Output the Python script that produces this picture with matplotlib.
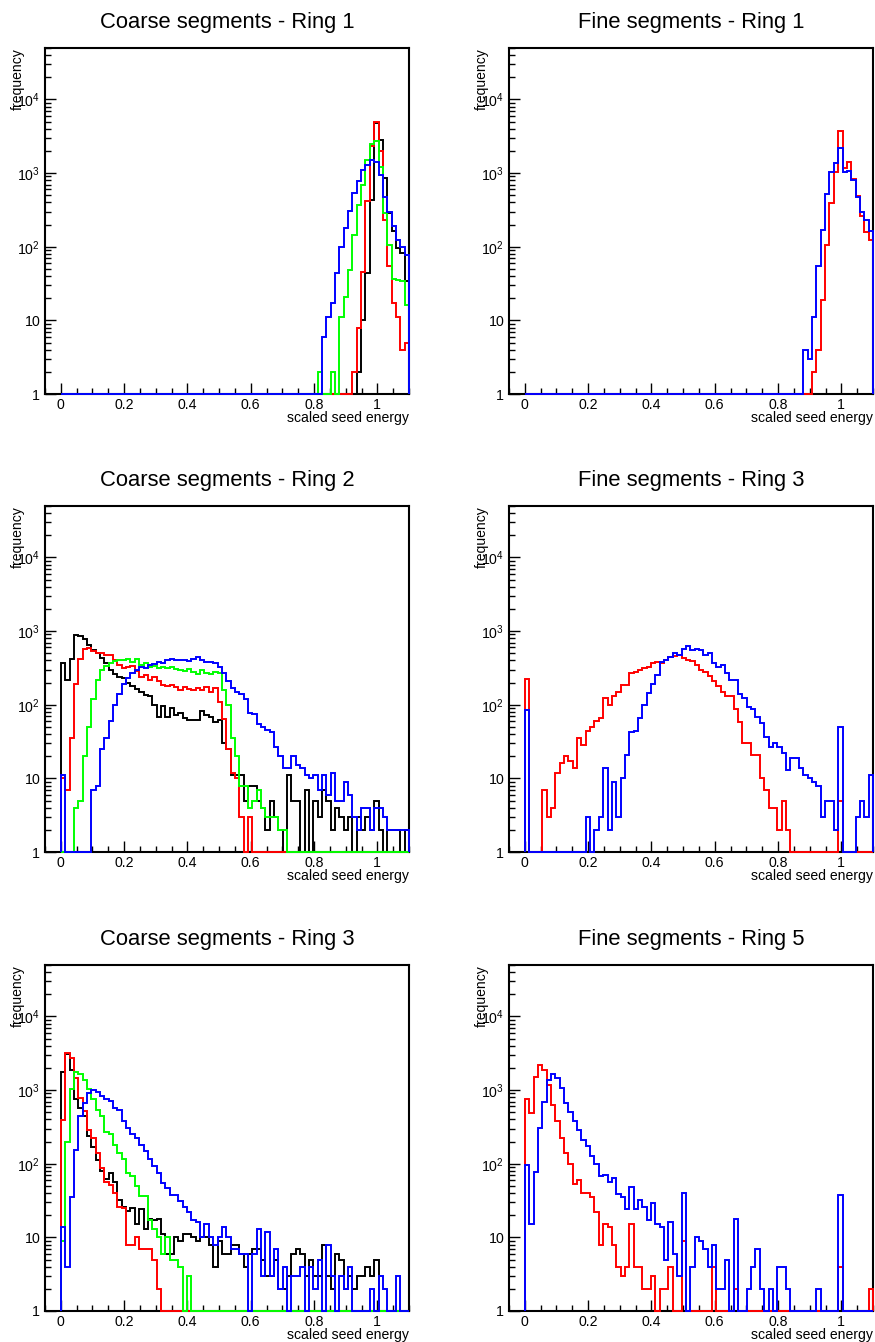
import numpy as np
import matplotlib
matplotlib.use("Agg")
import matplotlib.pyplot as plt
from matplotlib.ticker import FixedLocator, LogLocator, MultipleLocator, NullFormatter

plt.rcParams["font.family"] = ["Liberation Sans", "DejaVu Sans"]
plt.rcParams["mathtext.fontset"] = "custom"
plt.rcParams["mathtext.rm"] = "Liberation Sans"

# 80 bins of scaled seed energy between 0 and 1.1
bin_edges = np.linspace(0.0, 1.1, 81)

# ---- Coarse segments - Ring 1 ----
coarse1_black = [
    0, 0, 0, 0, 0, 0, 0, 0, 0, 0,
    0, 0, 0, 0, 0, 0, 0, 0, 0, 0,
    0, 0, 0, 0, 0, 0, 0, 0, 0, 0,
    0, 0, 0, 0, 0, 0, 0, 0, 0, 0,
    0, 0, 0, 0, 0, 0, 0, 0, 0, 0,
    0, 0, 0, 0, 0, 0, 0, 0, 0, 0,
    0, 0, 0, 0, 0, 0, 0, 0, 2, 10,
    44, 435, 4800, 2800, 860, 285, 162, 96, 82, 34,
]
coarse1_red = [
    0, 0, 0, 0, 0, 0, 0, 0, 0, 0,
    0, 0, 0, 0, 0, 0, 0, 0, 0, 0,
    0, 0, 0, 0, 0, 0, 0, 0, 0, 0,
    0, 0, 0, 0, 0, 0, 0, 0, 0, 0,
    0, 0, 0, 0, 0, 0, 0, 0, 0, 0,
    0, 0, 0, 0, 0, 0, 0, 0, 0, 0,
    0, 0, 0, 0, 0, 0, 0, 2, 8, 46,
    415, 2300, 5000, 2000, 230, 54, 17, 11, 4, 5,
]
coarse1_green = [
    0, 0, 0, 0, 0, 0, 0, 0, 0, 0,
    0, 0, 0, 0, 0, 0, 0, 0, 0, 0,
    0, 0, 0, 0, 0, 0, 0, 0, 0, 0,
    0, 0, 0, 0, 0, 0, 0, 0, 0, 0,
    0, 0, 0, 0, 0, 0, 0, 0, 0, 0,
    0, 0, 0, 0, 0, 0, 0, 0, 0, 2,
    0, 0, 2, 0, 11, 21, 49, 145, 372, 700,
    1500, 2500, 2700, 1200, 290, 107, 37, 35, 34, 16,
]
coarse1_blue = [
    0, 0, 0, 0, 0, 0, 0, 0, 0, 0,
    0, 0, 0, 0, 0, 0, 0, 0, 0, 0,
    0, 0, 0, 0, 0, 0, 0, 0, 0, 0,
    0, 0, 0, 0, 0, 0, 0, 0, 0, 0,
    0, 0, 0, 0, 0, 0, 0, 0, 0, 0,
    0, 0, 0, 0, 0, 0, 0, 0, 0, 0,
    6, 11, 17, 44, 100, 180, 310, 535, 780, 1090,
    1280, 1500, 1400, 935, 480, 295, 194, 122, 100, 78,
]

# ---- Fine segments - Ring 1 ----
fine1_red = [
    0, 0, 0, 0, 0, 0, 0, 0, 0, 0,
    0, 0, 0, 0, 0, 0, 0, 0, 0, 0,
    0, 0, 0, 0, 0, 0, 0, 0, 0, 0,
    0, 0, 0, 0, 0, 0, 0, 0, 0, 0,
    0, 0, 0, 0, 0, 0, 0, 0, 0, 0,
    0, 0, 0, 0, 0, 0, 0, 0, 0, 0,
    0, 0, 0, 0, 0, 0, 2, 4, 19, 104,
    390, 1030, 3700, 1170, 1400, 830, 490, 260, 157, 122,
]
fine1_blue = [
    0, 0, 0, 0, 0, 0, 0, 0, 0, 0,
    0, 0, 0, 0, 0, 0, 0, 0, 0, 0,
    0, 0, 0, 0, 0, 0, 0, 0, 0, 0,
    0, 0, 0, 0, 0, 0, 0, 0, 0, 0,
    0, 0, 0, 0, 0, 0, 0, 0, 0, 0,
    0, 0, 0, 0, 0, 0, 0, 0, 0, 0,
    0, 0, 0, 0, 4, 3, 11, 54, 170, 520,
    1030, 1370, 2200, 1050, 1080, 815, 480, 300, 228, 162,
]

# ---- Coarse segments - Ring 2 ----
coarse2_black = [
    370, 220, 420, 880, 870, 780, 640, 560, 500, 430,
    370, 300, 265, 240, 230, 195, 180, 165, 150, 135,
    130, 100, 69, 95, 69, 90, 73, 77, 66, 62,
    62, 62, 83, 73, 69, 59, 62, 30, 25, 11,
    11, 11, 5, 8, 8, 5, 4, 2, 5, 3,
    2, 0, 11, 5, 5, 0, 7, 0, 5, 3,
    7, 5, 2, 4, 3, 2, 3, 0, 3, 2,
    3, 2, 5, 2, 0, 2, 2, 2, 0, 2,
]
coarse2_red = [
    10, 7, 35, 190, 420, 570, 590, 530, 510, 500,
    480, 470, 400, 350, 320, 330, 340, 290, 240, 250,
    220, 240, 210, 185, 180, 185, 175, 160, 175, 165,
    160, 170, 160, 175, 150, 170, 110, 65, 25, 12,
    10, 3, 0, 3, 0, 0, 0, 0, 0, 0,
    0, 0, 0, 0, 0, 0, 0, 0, 0, 0,
    0, 0, 0, 0, 0, 0, 0, 0, 0, 0,
    0, 0, 0, 0, 0, 0, 0, 0, 0, 0,
]
coarse2_green = [
    0, 0, 0, 4, 5, 20, 50, 120, 220, 300,
    340, 370, 390, 410, 400, 420, 380, 420, 350, 370,
    330, 340, 320, 330, 320, 330, 310, 300, 290, 310,
    280, 260, 300, 270, 260, 280, 270, 160, 100, 35,
    20, 8, 8, 4, 5, 7, 4, 3, 3, 3,
    2, 2, 0, 0, 0, 0, 0, 0, 0, 0,
    0, 0, 0, 0, 0, 0, 0, 0, 0, 0,
    0, 0, 0, 0, 0, 0, 0, 0, 0, 0,
]
coarse2_blue = [
    11, 0, 0, 0, 0, 0, 0, 7, 8, 25,
    35, 60, 100, 140, 190, 230, 270, 300, 330, 320,
    350, 360, 380, 370, 410, 420, 410, 400, 410, 390,
    420, 440, 400, 380, 380, 370, 330, 270, 210, 170,
    150, 140, 120, 77, 75, 55, 50, 45, 42, 27,
    20, 14, 14, 20, 15, 14, 11, 10, 11, 7,
    11, 6, 12, 5, 5, 9, 6, 3, 2, 4,
    4, 2, 4, 4, 3, 2, 2, 2, 2, 2,
]

# ---- Fine segments - Ring 3 ----
fine3_red = [
    225, 0, 0, 0, 7, 3, 4, 12, 16, 20,
    17, 14, 35, 28, 44, 50, 60, 66, 123, 98,
    130, 150, 187, 187, 270, 275, 300, 320, 330, 370,
    380, 370, 410, 445, 455, 480, 430, 410, 390, 350,
    300, 280, 245, 210, 178, 150, 132, 130, 88, 59,
    30, 30, 21, 21, 10, 7, 4, 4, 2, 5,
    2, 0, 0, 0, 0, 0, 0, 0, 0, 0,
    0, 0, 5, 0, 0, 0, 0, 0, 0, 0,
]
fine3_blue = [
    84, 0, 0, 0, 0, 0, 0, 0, 0, 0,
    0, 0, 0, 0, 3, 0, 2, 3, 14, 2,
    9, 3, 10, 21, 42, 44, 66, 100, 145, 190,
    255, 380, 400, 440, 510, 480, 580, 620, 560, 580,
    560, 480, 510, 370, 330, 350, 270, 220, 220, 140,
    125, 93, 88, 69, 56, 37, 27, 30, 27, 22,
    13, 19, 19, 14, 11, 10, 9, 8, 3, 5,
    5, 2, 50, 0, 0, 0, 3, 5, 3, 11,
]

# ---- Coarse segments - Ring 3 ----
coarse3_black = [
    1780, 3070, 1900, 750, 575, 440, 235, 170, 113, 80,
    63, 74, 57, 32, 26, 23, 25, 15, 24, 13,
    18, 17, 18, 11, 6, 6, 10, 9, 11, 11,
    10, 9, 10, 10, 8, 4, 9, 6, 6, 8,
    8, 6, 4, 6, 7, 7, 5, 3, 3, 5,
    2, 2, 3, 6, 7, 6, 3, 5, 3, 3,
    8, 3, 2, 6, 5, 2, 3, 2, 3, 3,
    4, 3, 5, 0, 0, 0, 0, 0, 0, 0,
]
coarse3_red = [
    390, 3150, 2750, 1470, 790, 520, 290, 225, 140, 87,
    57, 52, 40, 26, 25, 8, 8, 10, 7, 7,
    7, 5, 2, 0, 0, 0, 0, 0, 0, 0,
    0, 0, 0, 0, 0, 0, 0, 0, 0, 0,
    0, 0, 0, 0, 0, 0, 0, 0, 0, 0,
    0, 0, 0, 0, 0, 0, 0, 0, 0, 0,
    0, 0, 0, 0, 0, 0, 0, 0, 0, 0,
    0, 0, 0, 0, 0, 0, 0, 0, 0, 0,
]
coarse3_green = [
    9, 195, 1020, 1780, 1630, 1390, 1050, 750, 540, 440,
    270, 250, 180, 142, 116, 74, 68, 50, 36, 36,
    17, 13, 10, 6, 10, 5, 5, 4, 0, 3,
    0, 0, 0, 0, 0, 0, 0, 0, 0, 0,
    0, 0, 0, 0, 0, 0, 0, 0, 0, 0,
    0, 0, 0, 0, 0, 0, 0, 0, 0, 0,
    0, 0, 0, 0, 0, 0, 0, 0, 0, 0,
    0, 0, 0, 0, 0, 0, 0, 0, 0, 0,
]
coarse3_blue = [
    14, 4, 35, 155, 440, 670, 920, 1000, 940, 830,
    760, 710, 575, 530, 385, 305, 255, 225, 180, 150,
    116, 93, 74, 55, 47, 38, 38, 31, 26, 22,
    17, 16, 10, 15, 10, 8, 10, 14, 10, 7,
    7, 6, 6, 0, 6, 13, 3, 12, 3, 7,
    2, 4, 0, 3, 3, 4, 0, 4, 2, 5,
    0, 8, 3, 0, 3, 2, 4, 0, 0, 0,
    0, 2, 0, 3, 2, 0, 0, 3, 0, 0,
]

# ---- Fine segments - Ring 5 ----
fine5_red = [
    760, 490, 1520, 2220, 1900, 1180, 620, 380, 225, 142,
    100, 53, 60, 40, 40, 35, 22, 8, 15, 14,
    8, 4, 3, 4, 15, 4, 4, 2, 2, 3,
    0, 2, 2, 4, 0, 0, 9, 0, 0, 0,
    0, 0, 0, 4, 0, 0, 0, 0, 2, 0,
    0, 0, 0, 0, 0, 0, 0, 0, 0, 0,
    0, 0, 0, 0, 0, 0, 0, 0, 0, 0,
    0, 0, 4, 0, 0, 0, 0, 0, 0, 2,
]
fine5_blue = [
    95, 15, 77, 305, 690, 1370, 1680, 1470, 1080, 670,
    500, 380, 290, 210, 175, 128, 100, 69, 71, 57,
    64, 39, 35, 24, 48, 24, 32, 26, 17, 29,
    15, 14, 5, 16, 6, 3, 40, 0, 4, 10,
    9, 7, 4, 8, 2, 2, 5, 0, 18, 0,
    0, 2, 4, 7, 2, 0, 2, 0, 4, 4,
    2, 0, 0, 0, 0, 0, 0, 2, 0, 0,
    0, 0, 38, 0, 0, 0, 0, 0, 0, 0,
]

titles = [
    "Coarse segments - Ring 1", "Fine segments - Ring 1",
    "Coarse segments - Ring 2", "Fine segments - Ring 3",
    "Coarse segments - Ring 3", "Fine segments - Ring 5",
]
coarse_colors = ["black", "#ff0000", "#00ff00", "#0000ff"]
fine_colors = ["#ff0000", "#0000ff"]
panel_series = [
    (coarse1_black, coarse1_red, coarse1_green, coarse1_blue),
    (fine1_red, fine1_blue),
    (coarse2_black, coarse2_red, coarse2_green, coarse2_blue),
    (fine3_red, fine3_blue),
    (coarse3_black, coarse3_red, coarse3_green, coarse3_blue),
    (fine5_red, fine5_blue),
]

W, H = 875, 1342
fig = plt.figure(figsize=(W / 100, H / 100), dpi=100)

lefts = [45, 509]
tops = [48, 506, 965]
aw, ah = 364, 346

for k, (title, series) in enumerate(zip(titles, panel_series)):
    row, col = divmod(k, 2)
    ax = fig.add_axes([lefts[col] / W, 1 - (tops[row] + ah) / H, aw / W, ah / H])
    colors = coarse_colors if len(series) == 4 else fine_colors
    for vals, c in zip(series, colors):
        v = np.asarray(vals, dtype=float)
        # empty bins are drawn on the bottom of the log axis, like ROOT does
        v = np.where(v > 0, v, 1.0)
        ax.stairs(v, bin_edges, baseline=1.0, color=c, lw=1.4,
                  clip_on=False, zorder=3)

    ax.set_yscale("log")
    ax.set_xlim(-0.05, 1.1)
    ax.set_ylim(1, 5e4)

    ax.xaxis.set_major_locator(FixedLocator([0, 0.2, 0.4, 0.6, 0.8, 1.0]))
    ax.set_xticklabels(["0", "0.2", "0.4", "0.6", "0.8", "1"])
    ax.xaxis.set_minor_locator(MultipleLocator(0.05))
    ax.yaxis.set_major_locator(FixedLocator([1, 10, 100, 1000, 10000]))
    ax.set_yticklabels(["1", "10", r"$10^{2}$", r"$10^{3}$", r"$10^{4}$"])
    ax.yaxis.set_minor_locator(LogLocator(base=10, subs=np.arange(2, 10)))
    ax.yaxis.set_minor_formatter(NullFormatter())

    ax.tick_params(which="both", direction="in", top=False, right=False,
                   width=1.0, labelsize=10.2)
    ax.tick_params(which="major", length=7.7)
    ax.tick_params(which="minor", length=4.0)
    ax.tick_params(axis="x", pad=3)
    ax.tick_params(axis="y", pad=3.5)
    for s in ax.spines.values():
        s.set_linewidth(1.5)

    ax.text(0.5, 1.075, title, transform=ax.transAxes, ha="center",
            va="center", fontsize=15.8)
    ax.text(-0.074, 1.0, "frequency", transform=ax.transAxes, rotation=90,
            ha="center", va="top", fontsize=10.1)
    ax.text(1.0, -0.069, "scaled seed energy", transform=ax.transAxes,
            ha="right", va="center", fontsize=10.1)

fig.savefig("out.png", dpi=100)
